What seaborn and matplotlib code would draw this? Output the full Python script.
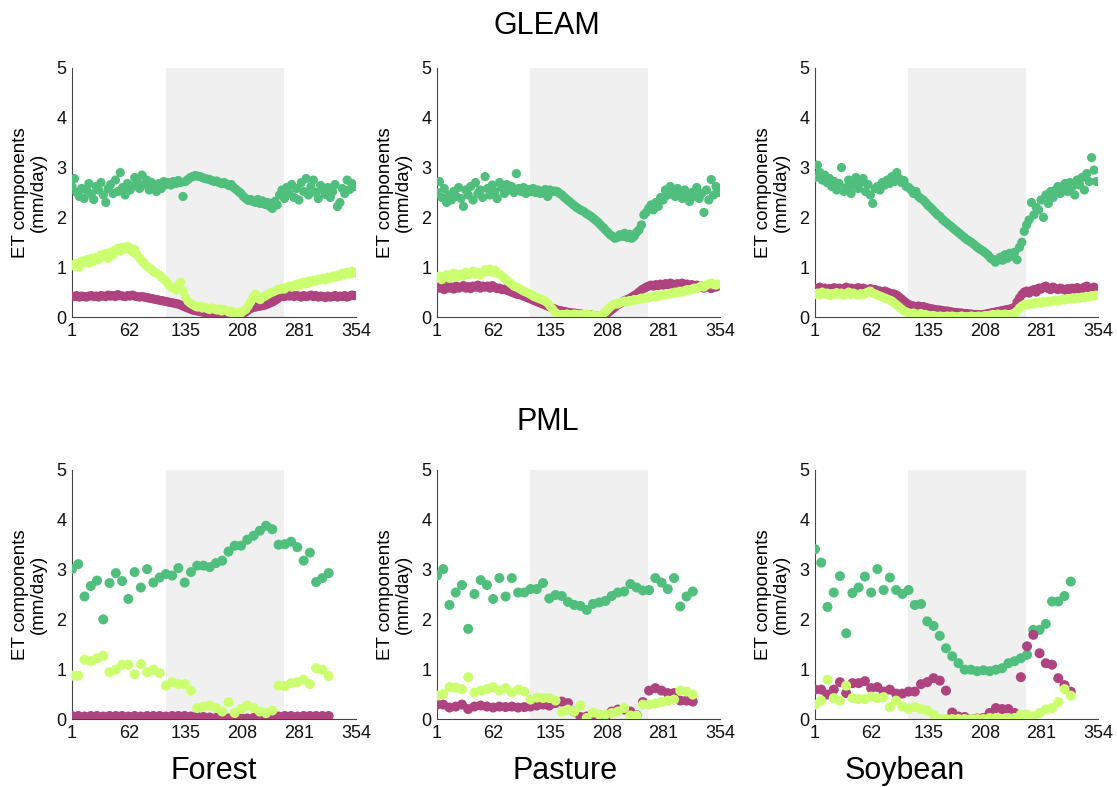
import numpy as np
import pandas as pd
import matplotlib
matplotlib.use("Agg")
import matplotlib.pyplot as plt
import seaborn as sns

# ---------------- data ----------------
landcovers = ["Forest", "Pasture", "Soybean"]
models = ["GLEAM", "PML"]
xtick_labels = ["1", "62", "135", "208", "281", "354"]
dry_season = [117.5, 264.5]

gleam_day = np.arange(1, 354, 3)          # daily product, every 3rd day shown
pml_day = np.linspace(1, 320, 42)          # 8-day product

# GLEAM - Forest
gleam_forest_green = [
    2.62, 2.78, 2.50, 2.42, 2.58, 2.38, 2.55, 2.68, 2.47, 2.36,
    2.62, 2.55, 2.70, 2.45, 2.30, 2.58, 2.66, 2.48, 2.75, 2.52,
    2.90, 2.60, 2.45, 2.68, 2.55, 2.62, 2.80, 2.72, 2.58, 2.85,
    2.66, 2.75, 2.55, 2.70, 2.62, 2.52, 2.68, 2.58, 2.72, 2.66,
    2.70, 2.65, 2.72, 2.68, 2.74, 2.70, 2.42, 2.72, 2.76, 2.80,
    2.82, 2.84, 2.83, 2.82, 2.80, 2.78, 2.77, 2.76, 2.74, 2.72,
    2.73, 2.70, 2.68, 2.70, 2.67, 2.64, 2.66, 2.60, 2.56, 2.52,
    2.48, 2.42, 2.38, 2.34, 2.36, 2.32, 2.30, 2.36, 2.28, 2.33,
    2.26, 2.30, 2.22, 2.18, 2.32, 2.25, 2.45, 2.55, 2.38, 2.60,
    2.48, 2.66, 2.40, 2.58, 2.35, 2.70, 2.52, 2.78, 2.45, 2.62,
    2.75, 2.50, 2.38, 2.64, 2.55, 2.46, 2.60, 2.40, 2.52, 2.66,
    2.22, 2.30, 2.58, 2.48, 2.75, 2.56, 2.68, 2.62]
gleam_forest_magenta = [
    0.42, 0.41, 0.43, 0.40, 0.42, 0.41, 0.40, 0.42, 0.43, 0.41,
    0.42, 0.40, 0.43, 0.42, 0.41, 0.44, 0.42, 0.43, 0.41, 0.45,
    0.43, 0.42, 0.41, 0.43, 0.42, 0.44, 0.42, 0.41, 0.40, 0.41,
    0.40, 0.39, 0.38, 0.37, 0.36, 0.35, 0.34, 0.33, 0.32, 0.31,
    0.30, 0.29, 0.28, 0.27, 0.26, 0.24, 0.22, 0.20, 0.18, 0.16,
    0.14, 0.13, 0.12, 0.11, 0.10, 0.09, 0.08, 0.08, 0.07, 0.06,
    0.06, 0.05, 0.05, 0.04, 0.04, 0.03, 0.02, 0.01, 0.00, 0.02,
    0.04, 0.07, 0.10, 0.14, 0.17, 0.19, 0.20, 0.21, 0.22, 0.23,
    0.24, 0.26, 0.28, 0.30, 0.33, 0.36, 0.40, 0.42, 0.41, 0.43,
    0.42, 0.44, 0.41, 0.43, 0.42, 0.40, 0.43, 0.41, 0.42, 0.44,
    0.41, 0.43, 0.40, 0.42, 0.41, 0.39, 0.42, 0.40, 0.41, 0.43,
    0.40, 0.42, 0.41, 0.43, 0.40, 0.42, 0.44, 0.43]
gleam_forest_yellow = [
    1.05, 1.02, 1.08, 1.00, 1.12, 1.10, 1.15, 1.08, 1.18, 1.12,
    1.20, 1.15, 1.25, 1.22, 1.28, 1.18, 1.30, 1.25, 1.35, 1.38,
    1.32, 1.40, 1.36, 1.42, 1.38, 1.30, 1.35, 1.25, 1.18, 1.12,
    1.08, 1.02, 0.98, 0.95, 0.90, 0.88, 0.85, 0.80, 0.76, 0.72,
    0.65, 0.60, 0.58, 0.55, 0.62, 0.70, 0.52, 0.40, 0.32, 0.28,
    0.25, 0.22, 0.20, 0.22, 0.18, 0.20, 0.17, 0.15, 0.18, 0.16,
    0.14, 0.16, 0.12, 0.15, 0.13, 0.10, 0.12, 0.04, 0.06, 0.10,
    0.08, 0.12, 0.15, 0.22, 0.30, 0.40, 0.46, 0.38, 0.35, 0.40,
    0.42, 0.45, 0.48, 0.50, 0.52, 0.55, 0.55, 0.58, 0.56, 0.60,
    0.62, 0.60, 0.64, 0.66, 0.62, 0.68, 0.70, 0.66, 0.72, 0.70,
    0.74, 0.72, 0.76, 0.75, 0.78, 0.74, 0.80, 0.78, 0.82, 0.80,
    0.84, 0.82, 0.88, 0.85, 0.90, 0.86, 0.92, 0.88]

# GLEAM - Pasture
gleam_pasture_green = [
    2.50, 2.72, 2.40, 2.58, 2.30, 2.45, 2.35, 2.52, 2.42, 2.60,
    2.38, 2.22, 2.55, 2.45, 2.62, 2.35, 2.70, 2.48, 2.55, 2.40,
    2.82, 2.58, 2.45, 2.65, 2.52, 2.38, 2.70, 2.60, 2.48, 2.66,
    2.55, 2.62, 2.50, 2.88, 2.58, 2.52, 2.60, 2.48, 2.56, 2.52,
    2.58, 2.50, 2.55, 2.48, 2.52, 2.56, 2.42, 2.55, 2.52, 2.53,
    2.52, 2.48, 2.45, 2.40, 2.36, 2.32, 2.28, 2.24, 2.20, 2.17,
    2.14, 2.12, 2.08, 2.05, 2.02, 1.98, 1.94, 1.90, 1.85, 1.80,
    1.75, 1.70, 1.65, 1.62, 1.58, 1.60, 1.65, 1.62, 1.68, 1.60,
    1.66, 1.58, 1.62, 1.70, 1.75, 1.85, 2.05, 2.10, 2.18, 2.25,
    2.15, 2.30, 2.22, 2.40, 2.35, 2.55, 2.45, 2.62, 2.50, 2.42,
    2.58, 2.48, 2.38, 2.55, 2.45, 2.32, 2.50, 2.42, 2.60, 2.38,
    2.48, 2.10, 2.55, 2.35, 2.76, 2.45, 2.62, 2.50]
gleam_pasture_magenta = [
    0.62, 0.58, 0.60, 0.55, 0.62, 0.58, 0.60, 0.56, 0.62, 0.58,
    0.60, 0.63, 0.58, 0.61, 0.57, 0.62, 0.60, 0.64, 0.58, 0.62,
    0.60, 0.62, 0.58, 0.63, 0.60, 0.57, 0.58, 0.55, 0.56, 0.54,
    0.52, 0.50, 0.48, 0.46, 0.45, 0.44, 0.42, 0.40, 0.38, 0.36,
    0.34, 0.32, 0.30, 0.28, 0.26, 0.24, 0.22, 0.20, 0.18, 0.16,
    0.14, 0.13, 0.12, 0.11, 0.10, 0.09, 0.08, 0.08, 0.07, 0.06,
    0.06, 0.05, 0.05, 0.04, 0.04, 0.03, 0.02, 0.01, 0.00, 0.02,
    0.04, 0.08, 0.12, 0.16, 0.20, 0.24, 0.27, 0.30, 0.33, 0.35,
    0.37, 0.40, 0.43, 0.46, 0.50, 0.54, 0.57, 0.60, 0.62, 0.64,
    0.62, 0.65, 0.63, 0.66, 0.64, 0.67, 0.65, 0.68, 0.66, 0.64,
    0.67, 0.65, 0.68, 0.64, 0.66, 0.63, 0.65, 0.62, 0.64, 0.60,
    0.62, 0.58, 0.63, 0.60, 0.57, 0.62, 0.60, 0.63]
gleam_pasture_yellow = [
    0.78, 0.82, 0.75, 0.80, 0.85, 0.78, 0.82, 0.88, 0.80, 0.84,
    0.86, 0.82, 0.90, 0.85, 0.88, 0.92, 0.86, 0.90, 0.84, 0.88,
    0.95, 0.92, 0.96, 0.90, 0.94, 0.88, 0.86, 0.82, 0.78, 0.74,
    0.70, 0.66, 0.62, 0.60, 0.58, 0.55, 0.52, 0.50, 0.48, 0.45,
    0.42, 0.40, 0.38, 0.36, 0.34, 0.32, 0.28, 0.22, 0.16, 0.10,
    0.06, 0.04, 0.05, 0.04, 0.06, 0.05, 0.04, 0.06, 0.05, 0.04,
    0.05, 0.04, 0.06, 0.05, 0.03, 0.04, 0.02, 0.01, 0.03, 0.06,
    0.10, 0.15, 0.20, 0.24, 0.27, 0.26, 0.28, 0.30, 0.32, 0.30,
    0.33, 0.32, 0.35, 0.34, 0.36, 0.38, 0.37, 0.40, 0.38, 0.41,
    0.42, 0.40, 0.44, 0.43, 0.45, 0.44, 0.47, 0.46, 0.48, 0.50,
    0.49, 0.52, 0.50, 0.53, 0.55, 0.54, 0.56, 0.58, 0.57, 0.60,
    0.62, 0.60, 0.64, 0.66, 0.68, 0.65, 0.64, 0.66]

# GLEAM - Soybean
gleam_soybean_green = [
    2.80, 3.05, 2.90, 2.75, 2.85, 2.70, 2.78, 2.62, 2.72, 2.55,
    2.68, 3.00, 2.52, 2.60, 2.75, 2.48, 2.65, 2.80, 2.58, 2.70,
    2.78, 2.52, 2.66, 2.45, 2.28, 2.58, 2.62, 2.55, 2.70, 2.65,
    2.75, 2.68, 2.82, 2.72, 2.90, 2.78, 2.70, 2.74, 2.62, 2.60,
    2.55, 2.48, 2.52, 2.42, 2.38, 2.35, 2.30, 2.24, 2.20, 2.15,
    2.10, 2.05, 2.02, 1.96, 1.92, 1.88, 1.84, 1.80, 1.76, 1.72,
    1.68, 1.64, 1.60, 1.56, 1.53, 1.50, 1.46, 1.42, 1.38, 1.35,
    1.32, 1.28, 1.24, 1.18, 1.15, 1.10, 1.16, 1.20, 1.14, 1.25,
    1.18, 1.28, 1.22, 1.30, 1.15, 1.40, 1.50, 1.72, 1.85, 1.95,
    2.30, 2.05, 2.20, 2.15, 2.35, 2.00, 2.45, 2.28, 2.52, 2.40,
    2.55, 2.62, 2.48, 2.58, 2.68, 2.52, 2.70, 2.62, 2.45, 2.75,
    2.65, 2.80, 2.55, 2.88, 2.72, 3.20, 2.95, 2.72]
gleam_soybean_magenta = [
    0.58, 0.55, 0.60, 0.56, 0.58, 0.54, 0.57, 0.55, 0.59, 0.56,
    0.58, 0.55, 0.57, 0.60, 0.56, 0.58, 0.54, 0.57, 0.59, 0.56,
    0.58, 0.56, 0.55, 0.57, 0.54, 0.55, 0.53, 0.52, 0.50, 0.52,
    0.50, 0.48, 0.47, 0.46, 0.44, 0.40, 0.36, 0.32, 0.28, 0.25,
    0.23, 0.22, 0.21, 0.22, 0.20, 0.21, 0.19, 0.18, 0.17, 0.16,
    0.15, 0.14, 0.14, 0.13, 0.12, 0.12, 0.11, 0.10, 0.09, 0.09,
    0.08, 0.08, 0.07, 0.07, 0.06, 0.06, 0.05, 0.05, 0.05, 0.04,
    0.05, 0.06, 0.07, 0.08, 0.09, 0.10, 0.11, 0.12, 0.13, 0.14,
    0.15, 0.16, 0.17, 0.20, 0.30, 0.38, 0.45, 0.50, 0.52, 0.48,
    0.53, 0.55, 0.50, 0.58, 0.56, 0.60, 0.62, 0.57, 0.55, 0.60,
    0.57, 0.55, 0.58, 0.56, 0.54, 0.57, 0.55, 0.58, 0.56, 0.59,
    0.55, 0.57, 0.60, 0.62, 0.58, 0.56, 0.60, 0.55]
gleam_soybean_yellow = [
    0.45, 0.48, 0.44, 0.50, 0.46, 0.48, 0.43, 0.47, 0.45, 0.49,
    0.46, 0.48, 0.44, 0.47, 0.50, 0.45, 0.48, 0.46, 0.44, 0.47,
    0.45, 0.48, 0.50, 0.52, 0.48, 0.46, 0.44, 0.42, 0.40, 0.38,
    0.36, 0.34, 0.32, 0.28, 0.24, 0.20, 0.16, 0.12, 0.10, 0.08,
    0.07, 0.08, 0.06, 0.05, 0.07, 0.04, 0.05, 0.03, 0.02, 0.03,
    0.02, 0.01, 0.02, 0.01, 0.00, 0.02, 0.01, 0.02, 0.01, 0.00,
    0.01, 0.02, 0.01, 0.00, 0.01, 0.02, 0.01, 0.00, 0.02, 0.01,
    0.02, 0.03, 0.02, 0.04, 0.05, 0.04, 0.06, 0.05, 0.04, 0.06,
    0.05, 0.04, 0.06, 0.08, 0.12, 0.18, 0.22, 0.25, 0.24, 0.26,
    0.28, 0.26, 0.29, 0.30, 0.28, 0.31, 0.30, 0.32, 0.31, 0.33,
    0.34, 0.32, 0.35, 0.36, 0.34, 0.37, 0.36, 0.38, 0.37, 0.39,
    0.38, 0.40, 0.39, 0.41, 0.40, 0.43, 0.42, 0.44]

# PML - Forest
pml_forest_green = [
    3.01, 3.11, 2.46, 2.67, 2.78, 2.00, 2.73, 2.93, 2.77, 2.41,
    2.95, 2.64, 3.01, 2.74, 2.84, 2.91, 2.88, 3.03, 2.74, 2.95,
    3.08, 3.08, 3.05, 3.13, 3.18, 3.36, 3.48, 3.48, 3.60, 3.68,
    3.78, 3.88, 3.81, 3.50, 3.51, 3.56, 3.45, 3.18, 3.34, 2.75,
    2.83, 2.93]
pml_forest_magenta = [
    0.06, 0.06, 0.05, 0.06, 0.06, 0.05, 0.06, 0.06, 0.06, 0.05,
    0.06, 0.05, 0.06, 0.06, 0.06, 0.05, 0.06, 0.06, 0.06, 0.05,
    0.05, 0.04, 0.03, 0.02, 0.02, 0.01, 0.02, 0.02, 0.01, 0.02,
    0.02, 0.03, 0.04, 0.05, 0.06, 0.06, 0.05, 0.06, 0.06, 0.06,
    0.06, 0.06]
pml_forest_yellow = [
    0.87, 0.87, 1.19, 1.16, 1.22, 1.27, 0.94, 0.99, 1.09, 1.09,
    0.90, 1.10, 0.94, 0.99, 0.92, 0.67, 0.74, 0.70, 0.70, 0.57,
    0.22, 0.25, 0.27, 0.22, 0.15, 0.34, 0.12, 0.20, 0.27, 0.22,
    0.15, 0.12, 0.17, 0.67, 0.66, 0.72, 0.74, 0.79, 0.70, 1.02,
    0.99, 0.86]

# PML - Pasture
pml_pasture_green = [
    2.88, 3.01, 2.29, 2.54, 2.69, 1.81, 2.51, 2.79, 2.69, 2.41,
    2.83, 2.46, 2.83, 2.54, 2.54, 2.61, 2.61, 2.73, 2.42, 2.49,
    2.47, 2.35, 2.29, 2.27, 2.19, 2.31, 2.34, 2.37, 2.47, 2.54,
    2.56, 2.71, 2.64, 2.58, 2.59, 2.83, 2.74, 2.61, 2.83, 2.26,
    2.46, 2.56]
pml_pasture_magenta = [
    0.29, 0.29, 0.23, 0.25, 0.29, 0.20, 0.25, 0.27, 0.25, 0.23,
    0.25, 0.24, 0.25, 0.23, 0.24, 0.25, 0.27, 0.29, 0.27, 0.32,
    0.35, 0.32, 0.15, 0.04, 0.05, 0.00, 0.05, 0.03, 0.15, 0.19,
    0.19, 0.15, 0.08, 0.34, 0.57, 0.62, 0.57, 0.52, 0.52, 0.37,
    0.37, 0.35]
pml_pasture_yellow = [
    0.47, 0.50, 0.64, 0.63, 0.60, 0.84, 0.53, 0.57, 0.60, 0.64,
    0.57, 0.62, 0.53, 0.59, 0.55, 0.39, 0.43, 0.42, 0.42, 0.37,
    0.14, 0.19, 0.15, 0.27, 0.02, 0.13, 0.09, 0.09, 0.12, 0.15,
    0.22, 0.07, 0.07, 0.29, 0.29, 0.31, 0.34, 0.37, 0.39, 0.57,
    0.55, 0.49]

# PML - Soybean
pml_soybean_green = [
    3.41, 3.14, 2.25, 2.54, 2.87, 1.72, 2.53, 2.64, 2.86, 2.54,
    3.01, 2.59, 2.84, 2.59, 2.51, 2.59, 2.29, 2.31, 1.96, 1.87,
    1.67, 1.42, 1.26, 1.12, 0.99, 0.99, 0.96, 0.98, 0.96, 0.99,
    1.02, 1.12, 1.16, 1.22, 1.29, 1.79, 1.79, 1.91, 2.36, 2.36,
    2.47, 2.76]
pml_soybean_magenta = [
    0.59, 0.59, 0.49, 0.59, 0.74, 0.52, 0.72, 0.72, 0.76, 0.62,
    0.64, 0.55, 0.59, 0.51, 0.51, 0.55, 0.55, 0.70, 0.74, 0.82,
    0.77, 0.57, 0.13, 0.05, 0.04, 0.00, 0.01, 0.02, 0.12, 0.22,
    0.20, 0.20, 0.12, 0.84, 1.46, 1.69, 1.32, 1.12, 1.09, 0.82,
    0.68, 0.55]
pml_soybean_yellow = [
    0.29, 0.37, 0.79, 0.42, 0.37, 0.67, 0.42, 0.40, 0.40, 0.45,
    0.42, 0.44, 0.24, 0.37, 0.25, 0.20, 0.24, 0.20, 0.17, 0.09,
    0.00, 0.00, 0.00, 0.00, 0.00, 0.00, 0.00, 0.00, 0.02, 0.02,
    0.00, 0.02, 0.02, 0.09, 0.09, 0.05, 0.12, 0.19, 0.22, 0.34,
    0.60, 0.47]

panels = {
    ("GLEAM", "Forest"): (gleam_day, gleam_forest_green, gleam_forest_magenta, gleam_forest_yellow),
    ("GLEAM", "Pasture"): (gleam_day, gleam_pasture_green, gleam_pasture_magenta, gleam_pasture_yellow),
    ("GLEAM", "Soybean"): (gleam_day, gleam_soybean_green, gleam_soybean_magenta, gleam_soybean_yellow),
    ("PML", "Forest"): (pml_day, pml_forest_green, pml_forest_magenta, pml_forest_yellow),
    ("PML", "Pasture"): (pml_day, pml_pasture_green, pml_pasture_magenta, pml_pasture_yellow),
    ("PML", "Soybean"): (pml_day, pml_soybean_green, pml_soybean_magenta, pml_soybean_yellow),
}

# ---------------- style ----------------
sns.set_style("white")
plt.rcParams["font.family"] = ["Liberation Sans", "DejaVu Sans"]

colors = ["#50BE7D", "#AE4380", "#CCFF70"]
W, H = 1117, 787
fig = plt.figure(figsize=(W / 100, H / 100), dpi=100)

lefts = [72, 437, 815]
widths = [284, 283, 283]
tops = {"GLEAM": 68, "PML": 470}
ax_h = 249

xticks = np.linspace(1, 354, 6)

for (model, lc), (xd, g, m, y) in panels.items():
    c = landcovers.index(lc)
    ax = fig.add_axes([lefts[c] / W, 1 - (tops[model] + ax_h) / H, widths[c] / W, ax_h / H])
    ax.axvspan(dry_season[0], dry_season[1], color="#F0F0F0", zorder=0, lw=0)
    size = 44 if model == "GLEAM" else 52
    for vals, col in zip([g, m, y], colors):
        df = pd.DataFrame({"day": xd, "et": vals})
        sns.scatterplot(data=df, x="day", y="et", color=col, s=size, edgecolor="none",
                        linewidth=0, ax=ax, legend=False, zorder=3)
    ax.set_xlim(1, 354)
    ax.set_ylim(0, 5)
    ax.set_xticks(xticks)
    ax.set_xticklabels(xtick_labels)
    ax.set_yticks([0, 1, 2, 3, 4, 5])
    ax.set_yticklabels(["0", "1", "2", "3", "4", "5"])
    ax.tick_params(axis="both", length=0, labelsize=13, colors="#111111", pad=4)
    ax.set_xlabel("")
    ax.set_ylabel("ET components\n(mm/day)", fontsize=13.5, labelpad=7, color="#000000",
                  linespacing=1.05)
    for side in ["top", "right"]:
        ax.spines[side].set_visible(False)
    for side in ["left", "bottom"]:
        ax.spines[side].set_color("#444444")
        ax.spines[side].set_linewidth(0.8)
    ax.set_facecolor("none")

fig.text(547 / W, 1 - 26 / H, "GLEAM", ha="center", va="center", fontsize=22, color="black")
fig.text(548 / W, 1 - 422 / H, "PML", ha="center", va="center", fontsize=22, color="black")
for name, xc in zip(landcovers, [214, 565, 905]):
    fig.text(xc / W, 1 - 771 / H, name, ha="center", va="center", fontsize=22, color="black")

fig.savefig("out.png", dpi=100, facecolor="white")
